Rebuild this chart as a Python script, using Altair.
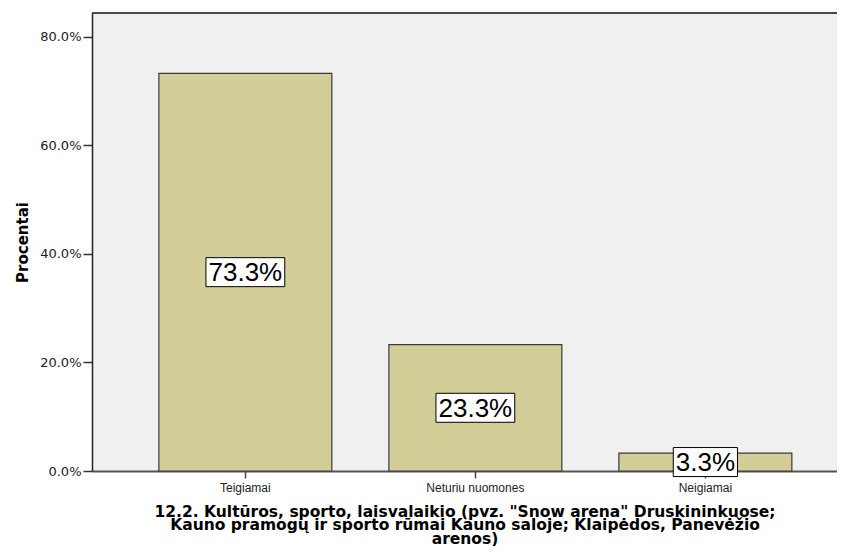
import altair as alt
import pandas as pd

categories = ["Teigiamai", "Neturiu nuomones", "Neigiamai"]
values = [73.3, 23.3, 3.3]
labels = ["73.3%", "23.3%", "3.3%"]

x_title = [
    '12.2. Kultūros, sporto, laisvalaikio (pvz. "Snow arena" Druskininkuose;',
    "Kauno pramogų ir sporto rūmai Kauno saloje; Klaipėdos, Panevėžio",
    "arenos)",
]
y_ticks = [0, 20, 40, 60, 80]
y_max = 84.42

# box around value label, sized from the label text (Arial-like metrics)
LABEL_FS = 26
char_w = {".": 0.278, "%": 0.889}
def box_path(text):
    w = sum(char_w.get(c, 0.556) for c in text) * LABEL_FS + 5
    hw, hh = w / 2, 14.5
    return f"M{-hw:.1f},{-hh}L{hw:.1f},{-hh}L{hw:.1f},{hh}L{-hw:.1f},{hh}Z"

df = pd.DataFrame({
    "cat": categories,
    "val": values,
    "lab": labels,
    "box": [box_path(t) for t in labels],
})

x_enc = alt.X(
    "cat:N",
    sort=categories,
    scale=alt.Scale(paddingInner=0.248, paddingOuter=0.2435, align=0.597),
    axis=alt.Axis(
        title=x_title,
        labelAngle=0,
        labelFont="Liberation Sans",
        labelFontSize=12,
        labelColor="#222222",
        labelPadding=4,
        tickSize=7,
        tickColor="#444444",
        tickWidth=1.5,
        domainColor="#555555",
        domainWidth=2,
        titleFont="DejaVu Sans",
        titleFontSize=15.5,
        titleFontWeight="bold",
        titleColor="#000000",
        titleLineHeight=13.5,
        titleY=33,
    ),
)

y_scale = alt.Scale(domain=[0, y_max], nice=False, zero=True)

bars = alt.Chart(df).mark_bar(
    fill="#D3CE97", stroke="#3a3a3a", strokeWidth=1.2
).encode(
    x=x_enc,
    y=alt.Y(
        "val:Q",
        scale=y_scale,
        axis=alt.Axis(
            title="Procentai",
            values=y_ticks,
            labelExpr="format(datum.value, '.1f') + '%'",
            labelFont="DejaVu Sans",
            labelFontSize=13,
            labelColor="#222222",
            labelPadding=2,
            tickSize=9,
            tickColor="#333333",
            tickWidth=1.5,
            domainColor="#222222",
            domainWidth=1.5,
            grid=False,
            titleFont="DejaVu Sans",
            titleFontSize=15,
            titleFontWeight="bold",
            titleColor="#000000",
            titleX=-62,
            titleY=229,
        ),
    ),
)

# top frame line of the plot area
top_rule = alt.Chart(df).mark_rule(color="#111111", strokeWidth=1.5).encode(
    y=alt.Y("top:Q", scale=y_scale)
).transform_calculate(top=str(y_max)).transform_filter("datum.cat == 'Teigiamai'")

mid = alt.Chart(df).transform_calculate(half="datum.val / 2")

boxes = mid.mark_point(
    filled=True, fill="white", stroke="black", strokeWidth=1, opacity=1, size=4
).encode(
    x=alt.X("cat:N", sort=categories),
    y=alt.Y("half:Q", scale=y_scale),
    shape=alt.Shape("box:N", scale=None, legend=None),
)

texts = mid.mark_text(
    font="Liberation Sans", fontSize=LABEL_FS, color="black", baseline="middle", align="center", dy=1
).encode(
    x=alt.X("cat:N", sort=categories),
    y=alt.Y("half:Q", scale=y_scale),
    text="lab:N",
)

chart = alt.layer(bars, top_rule, boxes, texts).properties(
    width=745,
    height=458,
    padding={"left": 84, "top": 5, "right": 0, "bottom": 75},
    autosize=alt.AutoSizeParams(type="none"),
    background="white",
).configure_view(
    fill="#F0F0F0", stroke=None
)

chart.save("out.html", embed_options={"renderer": "svg", "actions": False})
